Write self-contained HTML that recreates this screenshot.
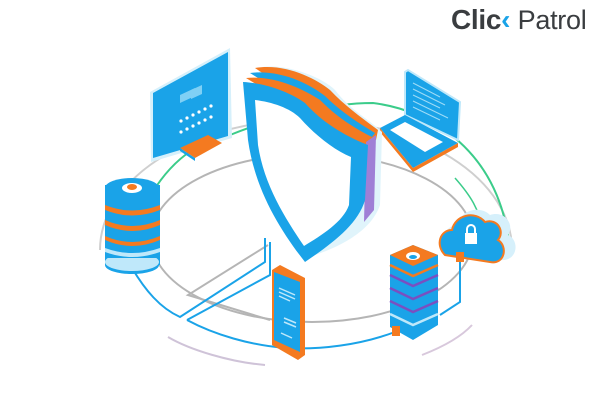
<!DOCTYPE html>
<html><head><meta charset="utf-8"><style>
html,body{margin:0;padding:0;background:#fff;width:600px;height:400px;overflow:hidden}
.logo{position:absolute;left:451px;top:4px;font-family:"Liberation Sans",sans-serif;font-weight:bold;font-size:28px;color:#3a3d40;letter-spacing:-0.3px;white-space:nowrap}
.logo span.c{color:#1aa3e8}
.logo span.p{font-weight:normal;font-size:27px}
</style></head><body>
<div class="logo">Clic<span class="c">‹</span> <span class="p">Patrol</span></div>
<svg width="600" height="400" style="position:absolute;left:0;top:0">
<!-- outer faint ellipse -->
<path d="M100 250 A206 130 0 0 1 512 250" fill="none" stroke="#cfcfcf" stroke-width="2"/>
<path d="M168 337 C190 350 230 362 265 365" fill="none" stroke="#cfc3d8" stroke-width="2"/>
<path d="M422 355 C440 348 460 338 472 325" fill="none" stroke="#d8c8dc" stroke-width="2"/>
<!-- gray inner ellipse -->
<ellipse cx="312" cy="238" rx="161" ry="84" fill="none" stroke="#b5b5b5" stroke-width="2"/>
<!-- gray connector -->
<path d="M268 245 L188 295 L270 320" fill="none" stroke="#b5b5b5" stroke-width="2"/>
<!-- green arc -->
<path d="M148 200 C170 160 200 140 230 135 C280 115 330 103 373 103 C430 110 500 150 510 250" fill="none" stroke="#3bcc8a" stroke-width="2"/>
<path d="M455 178 C470 195 480 210 482 230" fill="none" stroke="#3bcc8a" stroke-width="1.5"/>
<!-- blue lines -->
<path d="M132 268 C145 290 160 308 180 317 L265 262 L265 238" fill="none" stroke="#1aa3e8" stroke-width="2"/>
<path d="M187 320 L270 275 L270 242" fill="none" stroke="#1aa3e8" stroke-width="2"/>
<path d="M187 320 C215 335 250 345 285 348 C320 350 360 345 395 332" fill="none" stroke="#1aa3e8" stroke-width="2"/>
<path d="M440 315 L460 302 L460 258" fill="none" stroke="#1aa3e8" stroke-width="2"/>
<!-- Monitor -->
<polygon points="150,92 230,48 232,138 151,162" fill="#d6f0fb"/>
<polygon points="153,93 228,52 228,136 153,158" fill="#1aa3e8"/>
<polygon points="180,95 195,88 195,96 180,103" fill="#7fd0f5"/>
<polygon points="191,90 202,85 202,94 191,99" fill="#7fd0f5"/>
<g fill="#fff">
<circle cx="181" cy="121" r="1.6"/><circle cx="187" cy="118" r="1.6"/><circle cx="193" cy="115" r="1.6"/><circle cx="199" cy="112" r="1.6"/><circle cx="205" cy="109" r="1.6"/><circle cx="211" cy="106" r="1.6"/>
<circle cx="181" cy="132" r="1.6"/><circle cx="187" cy="129" r="1.6"/><circle cx="193" cy="126" r="1.6"/><circle cx="199" cy="123" r="1.6"/><circle cx="205" cy="120" r="1.6"/><circle cx="211" cy="117" r="1.6"/>
</g>
<polygon points="180,148 208,135 222,143 195,158" fill="#f47a20"/>
<polygon points="180,148 195,158 195,161 180,151" fill="#1aa3e8"/>
<!-- Laptop -->
<polygon points="405,72 408,70 460,102 458,140 405,115" fill="#1aa3e8" stroke="#bfe8fa" stroke-width="2"/>
<g stroke="#9fdcf7" stroke-width="1"><line x1="413" y1="83" x2="440" y2="97"/><line x1="413" y1="89" x2="445" y2="105"/><line x1="413" y1="95" x2="440" y2="108"/><line x1="413" y1="101" x2="448" y2="118"/><line x1="413" y1="107" x2="440" y2="120"/></g>
<polygon points="380,128 405,115 458,143 413,168" fill="#1aa3e8"/>
<polygon points="380,128 413,168 458,143 458,147 413,172 380,132" fill="#f47a20"/>
<polygon points="390,130 405,122 443,142 425,152" fill="#fff"/>
<!-- Shield -->
<path d="M258 68 C280 62 320 75 335 90 C350 110 370 120 382 132 L380 205 C370 235 330 250 315 255 Z" fill="#e0f4fb"/>
<path d="M255 68 C285 63 315 78 330 90 C345 106 362 118 378 130 L376 140 L362 140 Z" fill="#f47a20"/>
<path d="M250 73 C280 69 310 84 325 96 C340 111 357 122 375 133 L366 145 Z" fill="#1aa3e8"/>
<path d="M246 78 C275 75 305 90 320 100 C336 116 352 127 372 137 L364 150 Z" fill="#f47a20"/>
<polygon points="366,142 376,135 374,210 364,222" fill="#9f7fd6"/>
<path d="M243 82 C265 83 290 92 305 103 C320 120 342 135 368 145 L365 200 C358 225 330 245 305 262 C280 230 255 190 248 140 Z" fill="#1aa3e8"/>
<path d="M255 100 C272 102 290 108 300 118 C315 135 334 150 351 157 L349 205 C343 222 322 235 304 246 C285 218 264 185 258 145 Z" fill="#fff"/>
<!-- Database left -->
<rect x="105" y="185" width="55" height="80" fill="#1aa3e8"/>
<ellipse cx="132" cy="265" rx="27" ry="9" fill="#1aa3e8"/>
<ellipse cx="132" cy="262" rx="27" ry="9" fill="#bfe8fa"/>
<rect x="105" y="230" width="55" height="28" fill="#1aa3e8"/>
<path d="M105 220 Q132 232 160 220 L160 225 Q132 237 105 225Z" fill="#f47a20"/>
<path d="M105 236 Q132 248 160 236 L160 240 Q132 252 105 240Z" fill="#f47a20"/>
<path d="M105 205 Q132 216 160 205 L160 210 Q132 221 105 210Z" fill="#f47a20"/>
<path d="M105 248 Q132 258 160 248 L160 252 Q132 262 105 252Z" fill="#bfe8fa"/>
<ellipse cx="132" cy="188" rx="27" ry="10" fill="#1aa3e8"/>
<ellipse cx="132" cy="188" rx="10" ry="5" fill="#fff"/>
<ellipse cx="132" cy="187" rx="5" ry="3" fill="#f47a20"/>
<!-- Cloud -->
<path d="M450 250 C440 240 445 225 458 225 C460 210 480 205 490 215 C505 210 515 225 508 235 C520 240 518 262 500 260 Z" fill="#d6f0fb"/>
<path d="M445 255 C435 245 440 230 452 230 C455 215 475 210 485 222 C498 218 505 232 498 240 C508 246 505 265 490 262 Z" fill="#1aa3e8" stroke="#f47a20" stroke-width="2"/>
<rect x="465" y="233" width="12" height="11" fill="#fff"/>
<path d="M467 234 V229 A4 4 0 0 1 475 229 V234" fill="none" stroke="#fff" stroke-width="2"/>
<rect x="456" y="252" width="8" height="10" fill="#f47a20"/>
<!-- Server -->
<polygon points="390,255 413,245 438,255 438,325 413,340 390,327" fill="#1aa3e8"/>
<polygon points="390,255 413,245 438,255 413,266" fill="#f47a20"/>
<ellipse cx="413" cy="256" rx="7" ry="4" fill="#fff"/>
<ellipse cx="413" cy="257" rx="4" ry="2" fill="#1aa3e8"/>
<g fill="none" stroke-width="2.5"><path d="M390 275 L413 286 L438 275" stroke="#7a4fc0"/><path d="M390 288 L413 299 L438 288" stroke="#7a4fc0"/><path d="M390 301 L413 312 L438 301" stroke="#7a4fc0"/><path d="M390 314 L413 325 L438 314" stroke="#bfe8fa"/><path d="M390 265 L413 276 L438 265" stroke="#f47a20"/></g>
<rect x="392" y="326" width="8" height="10" fill="#f47a20"/>
<!-- Phone -->
<polygon points="272,270 280,265 305,278 305,355 298,360 272,345" fill="#f47a20"/>
<polygon points="274,272 300,282 300,352 274,340" fill="#1aa3e8"/>
<g stroke="#bfe8fa" stroke-width="1.5"><line x1="279" y1="288" x2="295" y2="295"/><line x1="279" y1="292" x2="295" y2="299"/><line x1="279" y1="296" x2="290" y2="301"/><line x1="284" y1="318" x2="296" y2="323"/><line x1="284" y1="322" x2="296" y2="327"/><line x1="281" y1="333" x2="292" y2="338"/></g>
</svg>
</body></html>
